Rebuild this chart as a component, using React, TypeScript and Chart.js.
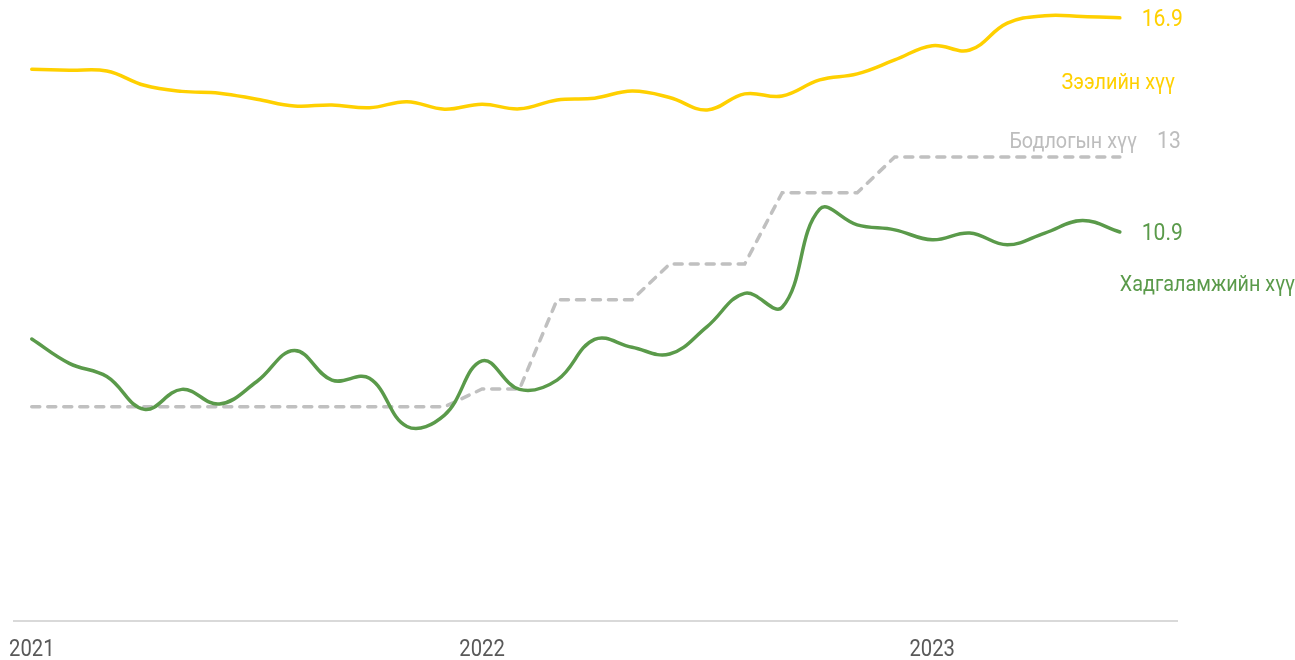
import React, { useEffect, useRef } from "react";
import { Chart, registerables } from "chart.js";

Chart.register(...registerables);

// Monthly observations, Jan 2021 – Jun 2023
const months: string[] = [
  "2021-01", "2021-02", "2021-03", "2021-04", "2021-05", "2021-06",
  "2021-07", "2021-08", "2021-09", "2021-10", "2021-11", "2021-12",
  "2022-01", "2022-02", "2022-03", "2022-04", "2022-05", "2022-06",
  "2022-07", "2022-08", "2022-09", "2022-10", "2022-11", "2022-12",
  "2023-01", "2023-02", "2023-03", "2023-04", "2023-05", "2023-06",
];

const yearTickIndex: number[] = [0, 12, 24];
const yearTickLabels: string[] = ["2021", "2022", "2023"];

// Зээлийн хүү (loan rate)
const loanRate: number[] = [
  15.46, 15.43, 15.41, 15.01, 14.84, 14.79, 14.62, 14.43, 14.46, 14.38,
  14.55, 14.34, 14.48, 14.35, 14.6, 14.65, 14.85, 14.67, 14.32, 14.77,
  14.71, 15.16, 15.33, 15.72, 16.12, 16.0, 16.75, 16.96, 16.94, 16.9,
];

// Хадгаламжийн хүү (deposit rate)
const depositRate: number[] = [
  7.9, 7.22, 6.85, 5.93, 6.49, 6.08, 6.71, 7.58, 6.75, 6.8,
  5.45, 5.77, 7.29, 6.49, 6.75, 7.89, 7.67, 7.48, 8.25, 9.18,
  8.79, 11.54, 11.1, 10.96, 10.68, 10.87, 10.54, 10.87, 11.22, 10.9,
];

// Бодлогын хүү (policy rate)
const policyRate: number[] = [
  6, 6, 6, 6, 6, 6, 6, 6, 6, 6,
  6, 6, 6.5, 6.5, 9, 9, 9, 10, 10, 10,
  12, 12, 12, 13, 13, 13, 13, 13, 13, 13,
];

const seriesNames = {
  loan: "Зээлийн хүү",
  policy: "Бодлогын хүү",
  deposit: "Хадгаламжийн хүү",
};

const YELLOW = "#FFD000";
const GREEN = "#5A9A4A";
const GREY = "#C0C0C0";
const GREY_TEXT = "#BDBDBD";
const AXIS_TEXT = "#595959";
const FONT_FAMILY = "Roboto, 'Noto Sans', sans-serif";
const CONDENSE = 0.88;

function drawText(
  ctx: CanvasRenderingContext2D,
  text: string,
  x: number,
  y: number,
  size: number,
  color: string,
  align: CanvasTextAlign
) {
  ctx.save();
  ctx.font = `400 ${size}px ${FONT_FAMILY}`;
  ctx.fillStyle = color;
  ctx.textBaseline = "middle";
  ctx.textAlign = align;
  ctx.translate(x, y);
  ctx.scale(CONDENSE, 1);
  ctx.fillText(text, 0, 0);
  ctx.restore();
}

const toPoints = (arr: number[]) => arr.map((v, i) => ({ x: i, y: v }));

const annotatePlugin = {
  id: "annotate",
  beforeDatasetsDraw(chart: any) {
    const { ctx, chartArea } = chart;
    ctx.save();
    ctx.strokeStyle = "#D9D9D9";
    ctx.lineWidth = 2;
    ctx.beginPath();
    ctx.moveTo(chartArea.left, chartArea.bottom);
    ctx.lineTo(chartArea.right, chartArea.bottom);
    ctx.stroke();
    ctx.restore();
  },
  afterDatasetsDraw(chart: any) {
    const { ctx, chartArea } = chart;
    const xs = chart.scales.x;
    const ys = chart.scales.y;
    yearTickIndex.forEach((idx, k) => {
      drawText(ctx, yearTickLabels[k], xs.getPixelForValue(idx), chartArea.bottom + 29, 23, AXIS_TEXT, "center");
    });
    const last = months.length - 1;
    const valueRight = xs.getPixelForValue(last) + 63;
    const loanLast = loanRate[last];
    const depLast = depositRate[last];
    const polLast = policyRate[last];
    drawText(ctx, loanLast.toFixed(1), valueRight, ys.getPixelForValue(loanLast) + 2, 24, YELLOW, "right");
    drawText(ctx, seriesNames.loan, valueRight - 8, ys.getPixelForValue(loanLast) + 66, 22.5, YELLOW, "right");
    drawText(ctx, String(polLast), valueRight - 2, ys.getPixelForValue(polLast) - 15, 24, GREY_TEXT, "right");
    drawText(ctx, seriesNames.policy, valueRight - 46, ys.getPixelForValue(polLast) - 15, 22.5, GREY_TEXT, "right");
    drawText(ctx, depLast.toFixed(1), valueRight, ys.getPixelForValue(depLast) + 2, 24, GREEN, "right");
    drawText(ctx, seriesNames.deposit, xs.getPixelForValue(last), ys.getPixelForValue(depLast) + 53, 22.5, GREEN, "left");
  },
};

export default function App() {
  const canvasRef = useRef<HTMLCanvasElement | null>(null);

  useEffect(() => {
    if (!canvasRef.current) return;
    const chart = new Chart(canvasRef.current, {
      type: "line",
      data: {
        labels: months,
        datasets: [
          {
            label: seriesNames.deposit,
            data: toPoints(depositRate),
            borderColor: GREEN,
            borderWidth: 3.5,
            tension: 0.4,
            pointRadius: 0,
            borderCapStyle: "round",
            borderJoinStyle: "round",
            fill: false,
          },
          {
            label: seriesNames.loan,
            data: toPoints(loanRate),
            borderColor: YELLOW,
            borderWidth: 3.5,
            tension: 0.4,
            pointRadius: 0,
            borderCapStyle: "round",
            borderJoinStyle: "round",
            fill: false,
          },
          {
            label: seriesNames.policy,
            data: toPoints(policyRate),
            borderColor: GREY,
            borderWidth: 3.5,
            borderDash: [8, 8],
            borderCapStyle: "round",
            tension: 0,
            pointRadius: 0,
            fill: false,
          },
        ],
      },
      options: {
        responsive: false,
        animation: false,
        events: [],
        layout: { padding: { left: 13, right: 117, top: 0, bottom: 39 } },
        plugins: {
          legend: { display: false },
          tooltip: { enabled: false },
          title: { display: false },
        },
        scales: {
          x: {
            type: "linear",
            min: -0.5,
            max: 30.55,
            display: false,
          },
          y: {
            type: "linear",
            min: 0,
            max: 17.4,
            display: false,
          },
        },
      },
      plugins: [annotatePlugin],
    } as any);
    return () => chart.destroy();
  }, []);

  return (
    <div style={{ position: "fixed", left: 0, top: 0, width: 1295, height: 660, background: "#fff" }}>
      <canvas ref={canvasRef} width={1295} height={660} style={{ display: "block", width: 1295, height: 660 }} />
    </div>
  );
}
